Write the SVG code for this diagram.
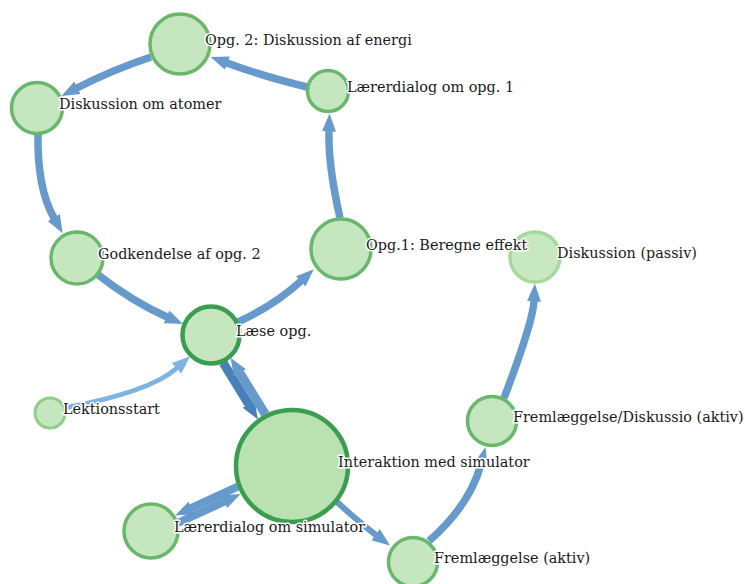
<svg xmlns="http://www.w3.org/2000/svg" width="745" height="584" viewBox="0 0 745 584">
<style>
.e{fill:none;stroke:#6699cc;stroke-width:7.5;stroke-linecap:butt}
.n circle{fill:#c6e6bf;stroke:#68b86c;stroke-width:3.5}
.n text{font-family:"DejaVu Serif","Liberation Serif",serif;font-size:14.4px;fill:#1a1a1a;stroke:#ffffff;stroke-width:3;stroke-linejoin:round;paint-order:stroke}
</style>
<defs>
<marker id="ah" markerUnits="userSpaceOnUse" markerWidth="18" markerHeight="14" viewBox="0 0 18 14" refX="0.5" refY="7" orient="auto"><path d="M0,0 L18,7 L0,14 z" fill="#6699cc"/></marker>
<marker id="ahd" markerUnits="userSpaceOnUse" markerWidth="18" markerHeight="14" viewBox="0 0 18 14" refX="0.5" refY="7" orient="auto"><path d="M0,0 L18,7 L0,14 z" fill="#4a80b8"/></marker>
<marker id="ahl" markerUnits="userSpaceOnUse" markerWidth="18" markerHeight="14" viewBox="0 0 18 14" refX="0.5" refY="7" orient="auto"><path d="M0,0 L18,7 L0,14 z" fill="#7fb3e3"/></marker>
</defs>
<g id="edges">
<path class="e" d="M151,57 Q112,70 77,88" marker-end="url(#ah)"/>
<path class="e" d="M307,87 Q262,76 227,63" marker-end="url(#ah)"/>
<path class="e" d="M38,134 Q37,188 54,218" marker-end="url(#ah)"/>
<path class="e" d="M340,218 Q328,165 329,131" marker-end="url(#ah)"/>
<path class="e" d="M97,274 Q133,302 167,317" marker-end="url(#ah)"/>
<path class="e" d="M238,322 Q275,305 301,281" marker-end="url(#ah)"/>
<path class="e" d="M64,408 Q150,392 177,368" style="stroke:#7fb3e3;stroke-width:5" marker-end="url(#ahl)"/>
<path class="e" d="M223.2,362.9 L248.8,404.5" style="stroke:#4a80b8;stroke-width:9" marker-end="url(#ahd)"/>
<path class="e" d="M265.3,414.2 L239.7,372.6" style="stroke-width:9" marker-end="url(#ah)"/>
<path class="e" d="M237.6,486.7 L191,508.2" style="stroke-width:8" marker-end="url(#ah)"/>
<path class="e" d="M178.1,522.9 L224.7,501.4" style="stroke-width:8" marker-end="url(#ah)"/>
<path class="e" d="M337,502 Q360,523 376,535" style="stroke-width:6" marker-end="url(#ah)"/>
<path class="e" d="M429,541 Q470,505 481,464" marker-end="url(#ah)"/>
<path class="e" d="M504,398 Q533,322 534,301" marker-end="url(#ah)"/>
</g>
<g id="n_passiv" class="n"><circle cx="535" cy="257" r="25" style="stroke:#a5d99d;fill:#c8e8c2"/><text x="557" y="258">Diskussion (passiv)</text></g>
<g id="n_opg1" class="n"><circle cx="341" cy="249" r="30"/><text x="366" y="250">Opg.1: Beregne effekt</text></g>
<g id="n_opg2" class="n"><circle cx="180" cy="44" r="30"/><text x="205" y="45">Opg. 2: Diskussion af energi</text></g>
<g id="n_atomer" class="n"><circle cx="37" cy="108" r="25.5"/><text x="59" y="109">Diskussion om atomer</text></g>
<g id="n_laerer1" class="n"><circle cx="328" cy="91" r="20.5"/><text x="347" y="92">Lærerdialog om opg. 1</text></g>
<g id="n_godk" class="n"><circle cx="77" cy="258" r="26"/><text x="98" y="259">Godkendelse af opg. 2</text></g>
<g id="n_laese" class="n"><circle cx="211" cy="335" r="28.5" style="stroke:#3a9d4f;stroke-width:4.5"/><text x="236" y="336">Læse opg.</text></g>
<g id="n_start" class="n"><circle cx="50" cy="413" r="15" style="stroke:#8fcf88;stroke-width:3"/><text x="63" y="414">Lektionsstart</text></g>
<g id="n_inter" class="n"><circle cx="292" cy="466" r="56" style="stroke:#3a9d4f;stroke-width:4.5;fill:#b9e1b1"/><text x="338" y="467">Interaktion med simulator</text></g>
<g id="n_laerersim" class="n"><circle cx="151" cy="531" r="27"/><text x="174" y="532">Lærerdialog om simulator</text></g>
<g id="n_fremdisk" class="n"><circle cx="492" cy="421" r="24.5"/><text x="513" y="422">Fremlæggelse/Diskussio (aktiv)</text></g>
<g id="n_frem" class="n"><circle cx="413" cy="562" r="24.5"/><text x="434" y="563">Fremlæggelse (aktiv)</text></g>
</svg>
